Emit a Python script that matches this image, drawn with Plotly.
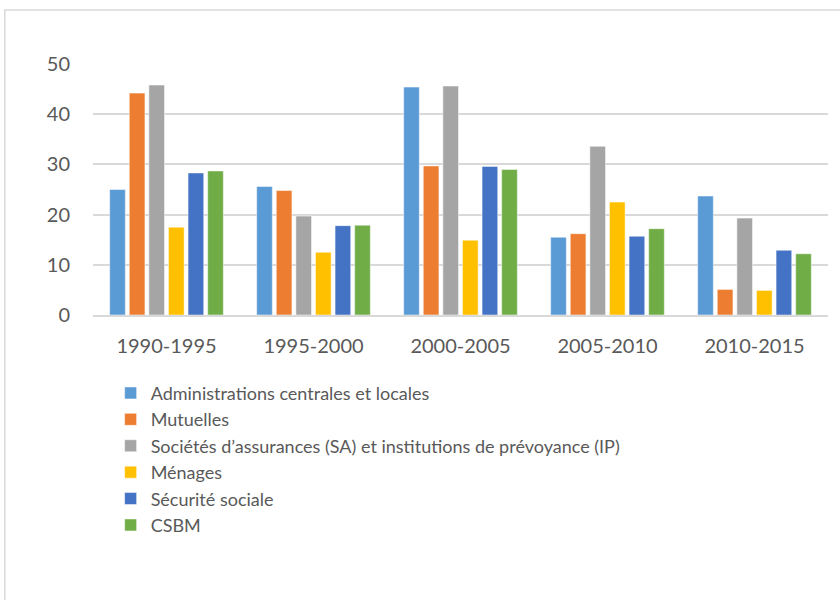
import plotly.graph_objects as go

periods = ["1990-1995", "1995-2000", "2000-2005", "2005-2010", "2010-2015"]

administrations = [25.0, 25.6, 45.4, 15.5, 23.7]
mutuelles = [44.2, 24.8, 29.7, 16.2, 5.1]
societes_assurances = [45.8, 19.7, 45.6, 33.6, 19.3]
menages = [17.5, 12.5, 14.9, 22.5, 4.9]
securite_sociale = [28.3, 17.8, 29.6, 15.7, 12.9]
csbm = [28.7, 17.9, 29.0, 17.2, 12.2]

series = [
    ("Administrations centrales et locales", administrations, "#5B9BD5"),
    ("Mutuelles", mutuelles, "#ED7D31"),
    ("Sociétés d’assurances (SA) et institutions de prévoyance (IP)", societes_assurances, "#A5A5A5"),
    ("Ménages", menages, "#FFC000"),
    ("Sécurité sociale", securite_sociale, "#4472C4"),
    ("CSBM", csbm, "#70AD47"),
]

fig = go.Figure()
for name, values, color in series:
    fig.add_trace(go.Bar(
        x=periods, y=values, name=name,
        marker=dict(color=color, line=dict(color="white", width=0.5)),
    ))

font_family = "Lato, 'Open Sans', sans-serif"

fig.update_layout(
    width=840, height=600,
    margin=dict(l=93, r=12, t=64, b=285),
    plot_bgcolor="white", paper_bgcolor="white",
    barmode="group", bargap=0.2, bargroupgap=0.2,
    font=dict(family=font_family, size=20, color="#595959"),
    showlegend=True,
    legend=dict(
        orientation="v", x=0.024, xanchor="left", y=-0.238, yanchor="top",
        font=dict(size=18, color="#595959"), tracegroupgap=0,
        itemwidth=30,
    ),
    xaxis=dict(
        showgrid=False, showline=True, linecolor="#D9D9D9", linewidth=1.5,
        ticks="", ticklabelstandoff=12,
    ),
    yaxis=dict(
        range=[0, 50], dtick=10, showgrid=True, gridcolor="#D9D9D9", gridwidth=1.5,
        zeroline=False, showline=False, ticks="", ticklabelstandoff=22,
    ),
    shapes=[dict(
        type="rect", xref="paper", yref="paper",
        x0=-0.12, x1=1.03, y0=-1.2, y1=1.215,
        line=dict(color="#D9D9D9", width=1.5), fillcolor="rgba(0,0,0,0)",
        layer="below",
    )],
)

# drop the browser's default page margin so the figure sits at the top-left corner
fig.write_html(
    "out.html",
    config={"displayModeBar": False},
    post_script="document.body.style.margin='0';",
)
